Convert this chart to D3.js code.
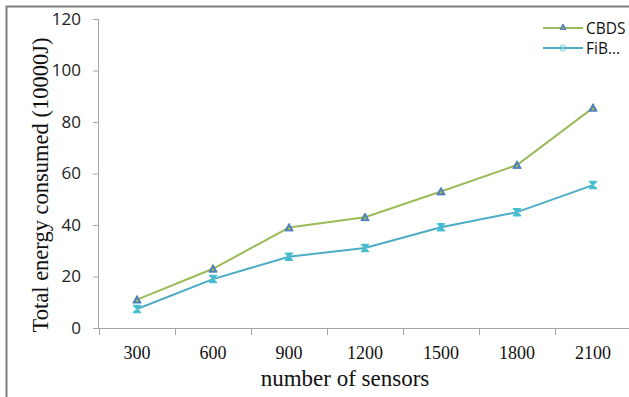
<!DOCTYPE html>
<html><head><meta charset="utf-8">
<script src="https://cdn.jsdelivr.net/npm/d3@7"></script>
<style>html,body{margin:0;padding:0;background:#fff;}svg{display:block;}</style>
</head><body>
<svg id="c" width="629" height="397"></svg>
<script>
const categories = ["300","600","900","1200","1500","1800","2100"];
const cbds = [11, 23, 39, 43, 53, 63.3, 85.5];
const fib = [7.4, 19, 27.7, 31.1, 39.1, 45, 55.5];
const yTicks = [0, 20, 40, 60, 80, 100, 120];
const seriesNames = ["CBDS", "FiB..."];

const svg = d3.select("#c");
// frame border (cropped)
svg.append("path").attr("d","M6.5,397 L6.5,6.5 L629,6.5").attr("fill","none").attr("stroke","#7f7f7f").attr("stroke-width",2);

const x = d3.scaleBand().domain(categories).range([99, 631]);
const y = d3.scaleLinear().domain([0,120]).range([328, 19]);

// y axis
const ya = svg.append("g").attr("transform","translate(99,0)")
  .call(d3.axisLeft(y).tickValues(yTicks).tickSize(6).tickPadding(12));
ya.select(".domain").attr("stroke","#a6a6a6").attr("d","M-0.5,19.5V328.5");
ya.selectAll(".tick line").attr("stroke","#a6a6a6");
ya.selectAll("text").attr("font-family","'Open Sans','Liberation Sans',sans-serif").attr("font-size",17).attr("fill","#222");

// x axis
const xa = svg.append("g").attr("transform","translate(0,328)")
  .call(d3.axisBottom(x).tickSize(0).tickPadding(18));
xa.select(".domain").attr("stroke","#a6a6a6").attr("d","M99,0.5H631");
xa.selectAll("text").attr("font-family","'Liberation Serif','Times New Roman',serif").attr("font-size",18).attr("fill","#111");
// x tick marks at band boundaries
svg.append("g").selectAll("line").data(categories.concat(["end"])).join("line")
  .attr("x1",(d,i)=>Math.round(99 + i*x.step())+0.5).attr("x2",(d,i)=>Math.round(99 + i*x.step())+0.5)
  .attr("y1",328).attr("y2",335).attr("stroke","#a6a6a6");

// axis titles
svg.append("text").attr("x",345).attr("y",386).attr("text-anchor","middle")
  .attr("font-family","'Liberation Serif','Times New Roman',serif").attr("font-size",23).attr("fill","#111")
  .text("number of sensors");
svg.append("text").attr("transform","translate(48,185) rotate(-90)").attr("text-anchor","middle")
  .attr("font-family","'Liberation Serif','Times New Roman',serif").attr("font-size",22.5).attr("fill","#111")
  .text("Total energy consumed (10000J)");

const cx = d => x(d) + x.bandwidth()/2;
const line = d3.line().x(d=>cx(d[0])).y(d=>y(d[1])).curve(d3.curveLinear);

const green = "#9bbb59", blue = "#4f81bd", cyan = "#4bacc6";
const cbdsPts = categories.map((c,i)=>[c,cbds[i]]);
const fibPts = categories.map((c,i)=>[c,fib[i]]);

svg.append("path").datum(fibPts).attr("d",line).attr("fill","none").attr("stroke",cyan).attr("stroke-width",2);
svg.append("path").datum(cbdsPts).attr("d",line).attr("fill","none").attr("stroke",green).attr("stroke-width",2);

function tri(g, px, py, s){
  g.append("path").attr("d",`M${px},${py-s} L${px+s},${py+s*0.8} L${px-s},${py+s*0.8} Z`)
   .attr("fill",blue).attr("stroke",blue).attr("stroke-width",1);
  g.append("circle").attr("cx",px).attr("cy",py+s*0.25).attr("r",s*0.3).attr("fill","#a9b84a");
}
function star(g, px, py, s){
  g.append("path").attr("d",`M${px-s},${py-s} L${px+s},${py-s} L${px-s},${py+s} L${px+s},${py+s} Z`)
   .attr("fill",cyan).attr("stroke","#46c3d1").attr("stroke-width",1.5).attr("stroke-linejoin","round");
}
const mg = svg.append("g");
fibPts.forEach(d=>star(mg, cx(d[0]), y(d[1]), 3.5));
cbdsPts.forEach(d=>tri(mg, cx(d[0]), y(d[1]), 4.2));

// legend
const lg = svg.append("g");
[[seriesNames[0],green,28],[seriesNames[1],cyan,48]].forEach(([n,c,ly],i)=>{
  lg.append("line").attr("x1",543).attr("x2",583).attr("y1",ly).attr("y2",ly).attr("stroke",c).attr("stroke-width",2);
  if(i===0) tri(lg,563,ly-1,3); else {
    lg.append("path").attr("d",`M560,${ly-3}L566,${ly+3}M566,${ly-3}L560,${ly+3}M563,${ly-4}V${ly+4}`).attr("stroke","#7fd3e0").attr("stroke-width",1);
  }
  lg.append("text").attr("x",586).attr("y",ly+5.5).attr("font-family","'Open Sans','Liberation Sans',sans-serif")
    .attr("font-size",15.5).attr("fill","#111").text(n);
});
</script>
</body></html>
